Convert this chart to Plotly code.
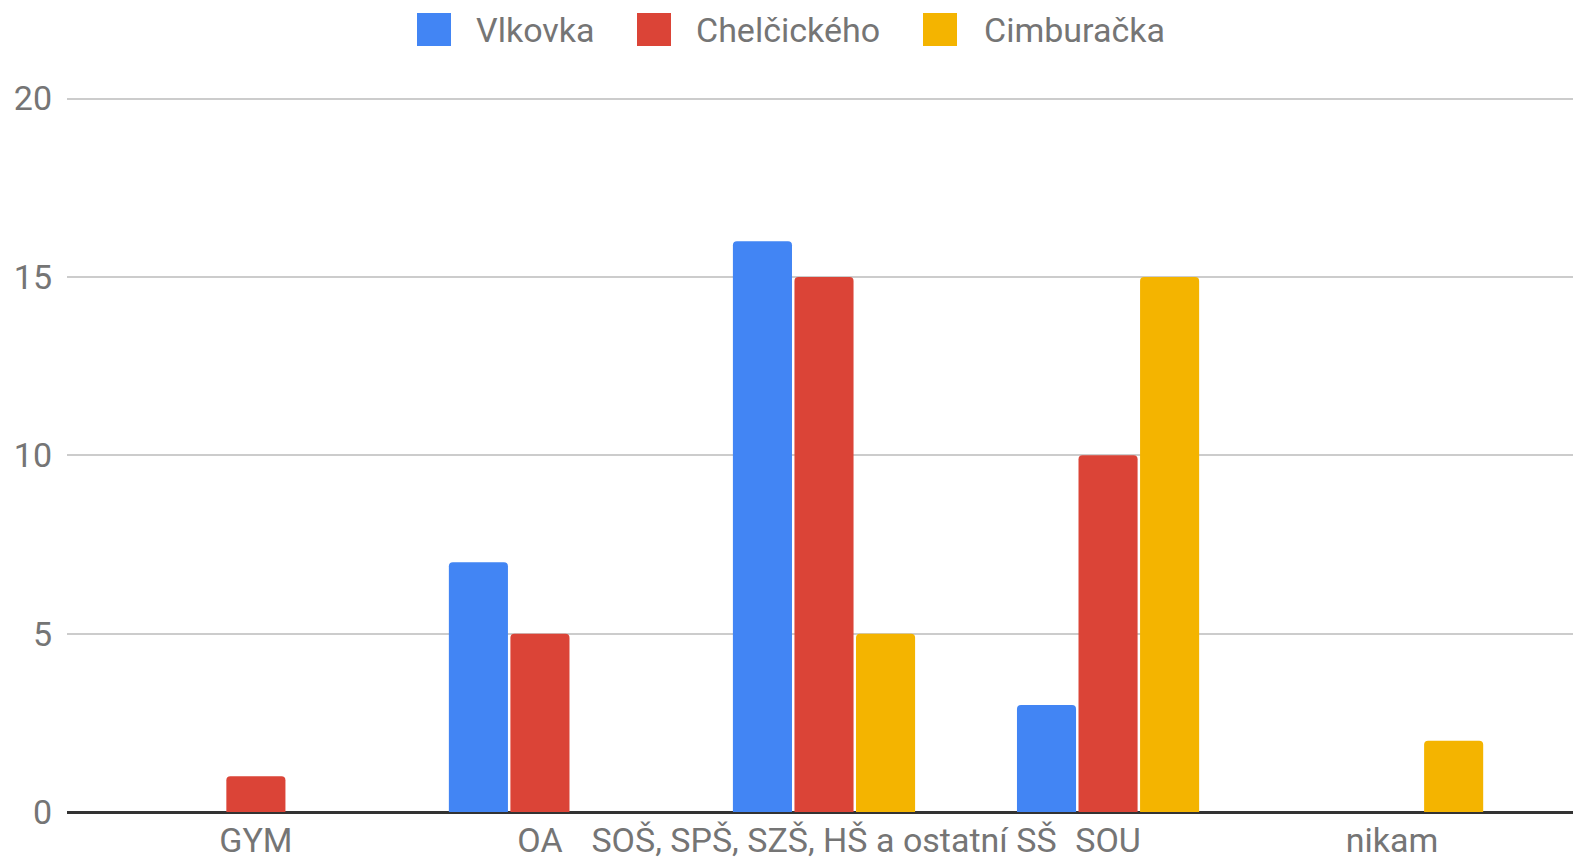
import plotly.graph_objects as go

# categories and counts per school
categories = ["GYM", "OA", "SOŠ, SPŠ, SZŠ, HŠ a ostatní SŠ", "SOU", "nikam"]
vlkovka = [0, 7, 16, 3, 0]
chelcickeho = [1, 5, 15, 10, 0]
cimburacka = [0, 0, 5, 15, 2]

series = [
    ("Vlkovka", vlkovka, "#4285F4"),
    ("Chelčického", chelcickeho, "#DB4437"),
    ("Cimburačka", cimburacka, "#F4B400"),
]

FONT = "Roboto, Arial, sans-serif"
TXT = "#757575"

# the html body has an 8px default margin, so shrink the figure to fit
OFF = 8
W, H = 1581 - OFF, 863 - OFF
ML, MR, MT, MB = 67 - OFF, 0, 95 - OFF, 51

# legend layout in page pixels: swatch left edge, text left edge
LEG_SWATCH_X = [417, 637, 923]
LEG_TEXT_X = [474, 694, 982]
LEG_Y0, LEG_Y1 = 13, 46


def px_x(p):
    return (p - OFF - ML) / (W - ML - MR)


def px_y(p):
    return (H - MB - (p - OFF)) / (H - MT - MB)


fig = go.Figure()
for name, vals, col in series:
    fig.add_bar(x=categories, y=vals, name=name, marker_color=col,
                marker_line_width=0)

# hand-built legend: plotly caps legend swatches at a small size
for (name, _, col), sx, tx in zip(series, LEG_SWATCH_X, LEG_TEXT_X):
    fig.add_shape(type="rect", xref="paper", yref="paper",
                  x0=px_x(sx), x1=px_x(sx + 34), y0=px_y(LEG_Y1), y1=px_y(LEG_Y0),
                  fillcolor=col, line_width=0, layer="above")
    fig.add_annotation(text=name, xref="paper", yref="paper",
                       x=px_x(tx), y=px_y((LEG_Y0 + LEG_Y1) / 2),
                       xanchor="left", yanchor="middle", showarrow=False,
                       font=dict(size=34, color=TXT, family=FONT))

fig.update_layout(
    width=W, height=H,
    margin=dict(l=ML, r=MR, t=MT, b=MB),
    paper_bgcolor="white", plot_bgcolor="white",
    font=dict(family=FONT, size=34, color=TXT),
    barmode="group", bargap=0.35, bargroupgap=0.04,
    barcornerradius=4,
    showlegend=False,
)
fig.update_xaxes(range=[-0.665, 4.665], tickangle=0, showgrid=False,
                 showline=False, ticks="", automargin=False,
                 ticklabelstandoff=5,
                 tickfont=dict(size=34, color=TXT))
fig.update_yaxes(range=[0, 20.1], tickvals=[0, 5, 10, 15, 20],
                 showgrid=True, gridcolor="#CCCCCC", gridwidth=2,
                 zeroline=True, zerolinecolor="#333333", zerolinewidth=3,
                 ticklabelstandoff=14, automargin=False,
                 tickfont=dict(size=34, color=TXT))

fig.write_html("out.html")
